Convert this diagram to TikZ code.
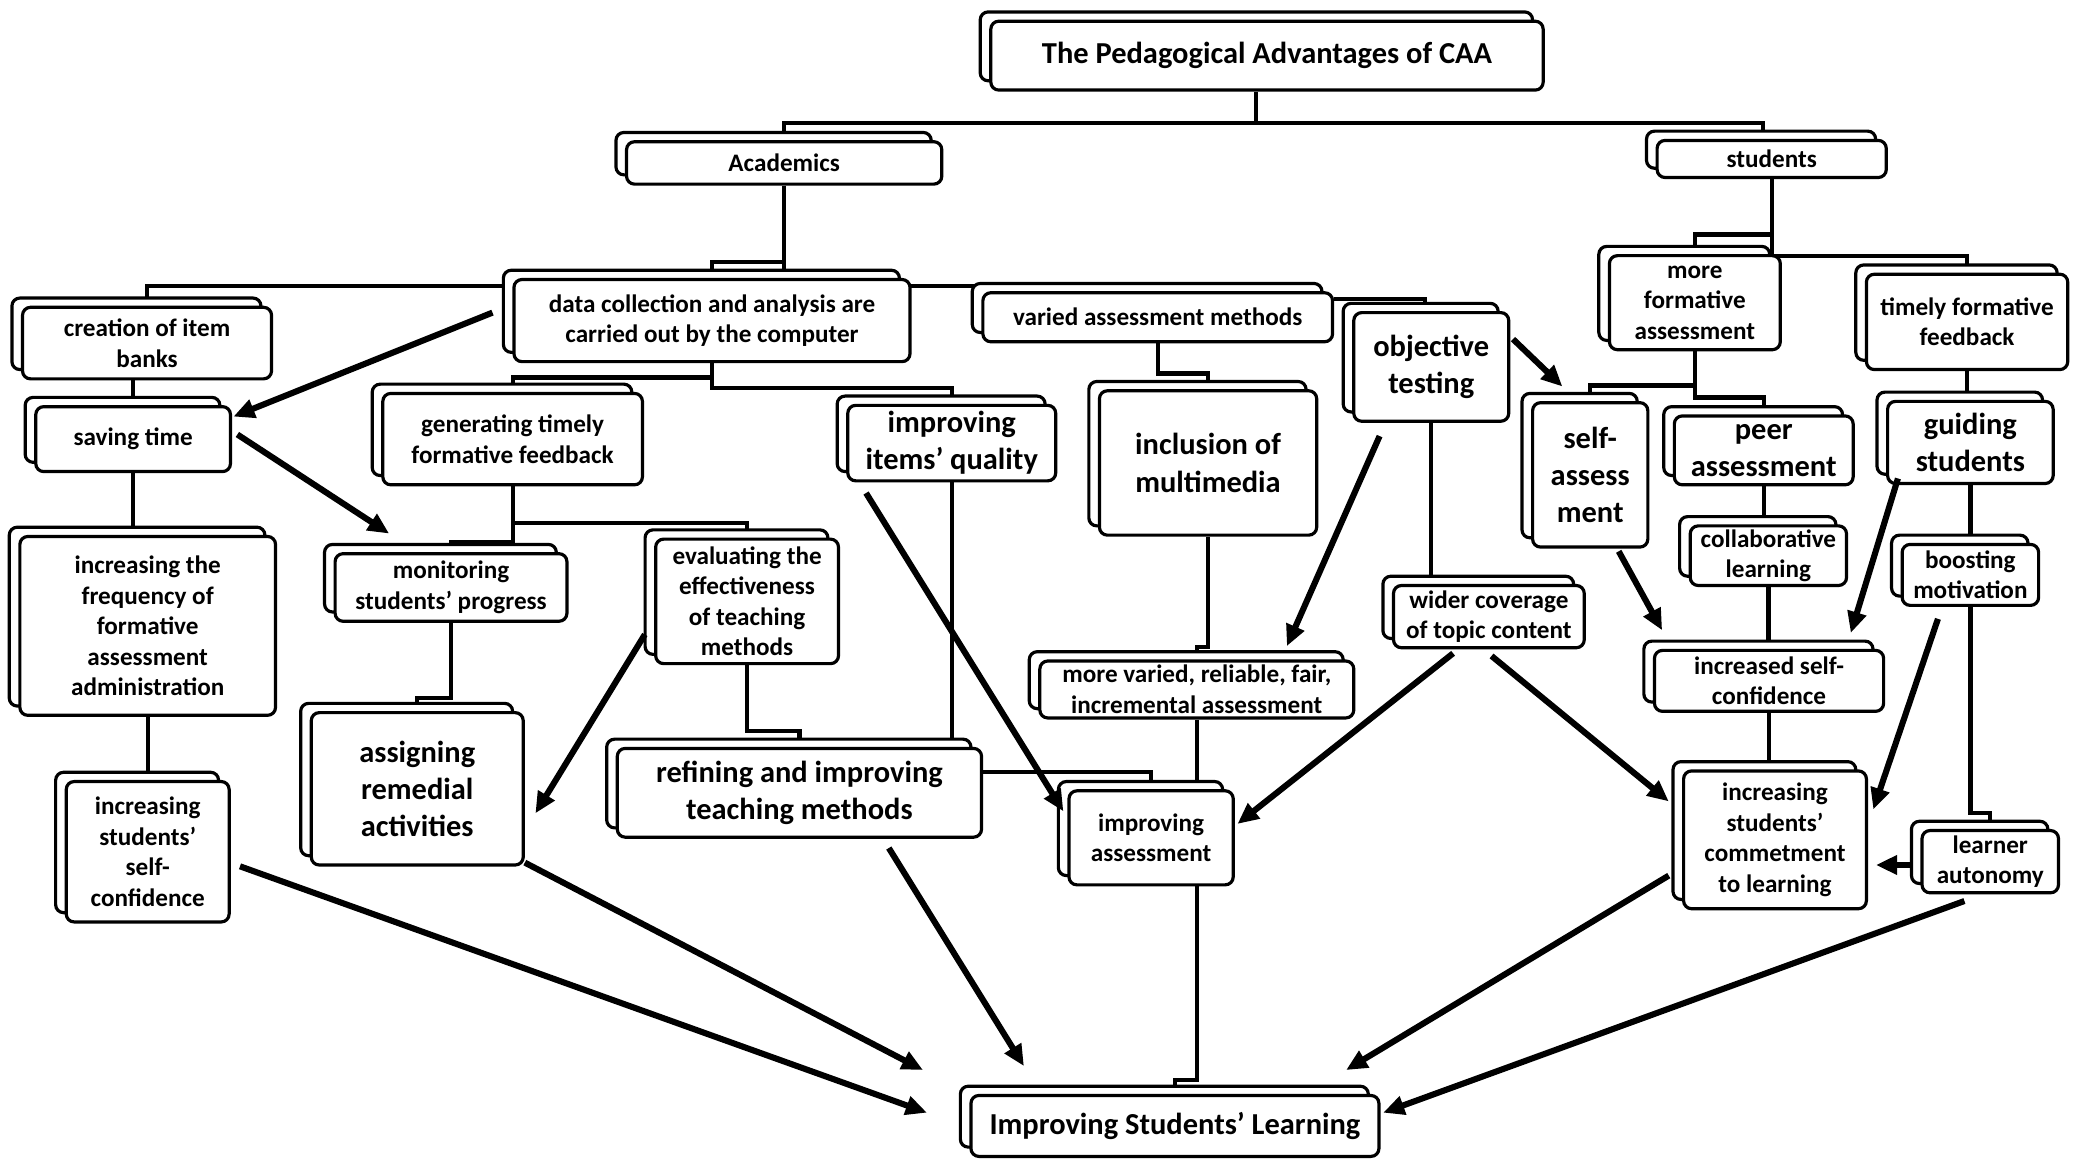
\documentclass[tikz,border=0pt]{standalone}
\usepackage{fontspec}
\setmainfont{Carlito}
\usetikzlibrary{arrows.meta,shadows,calc}
\pgfdeclarelayer{bgzero}
\pgfdeclarelayer{background}
\pgfsetlayers{bgzero,background,main}
\newcommand\normtext{\fontsize{19}{23}\selectfont\bfseries}
\newcommand\bigtext{\fontsize{23}{28}\selectfont\bfseries}
\newcommand\titletext{\fontsize{23}{27}\selectfont\bfseries}
\tikzset{
  box/.style={draw=black, line width=2.4pt, rounded corners=6pt, fill=white, inner sep=2pt,
    align=center, font=\normtext,
    copy shadow={shadow xshift=-8pt, shadow yshift=7pt, draw=black, fill=white, line width=2.4pt}},
  bigbox/.style={box, font=\bigtext},
  tree/.style={line width=3.2pt},
  arr/.style={line width=4.6pt, -{Triangle[length=16pt,width=14pt]}},
}
\begin{document}
\begin{tikzpicture}[x=1pt,y=-1pt]
\begin{pgfonlayer}{bgzero}
\fill[white] (0,0) rectangle (1568,879);
\end{pgfonlayer}
\useasboundingbox (0,0) rectangle (1568,879);

% nodes
\node[box, font=\titletext, minimum width=417pt, minimum height=52pt] (title) at (956.5,42) {The Pedagogical Advantages of CAA};
\node[box, minimum width=238pt, minimum height=32pt] (academics) at (592,123) {Academics};
\node[box, minimum width=173pt, minimum height=28pt] (students) at (1337.5,120) {students};
\node[box, minimum width=299pt, minimum height=62pt] (datacoll) at (537.5,242) {data collection and analysis are\\carried out by the computer};
\node[box, minimum width=188pt, minimum height=54pt] (creation) at (111,259) {creation of item\\banks};
\node[box, minimum width=147pt, minimum height=49pt] (saving) at (100.5,331.5) {saving time};
\node[box, minimum width=196pt, minimum height=69pt] (generating) at (387,331.5) {generating timely\\formative feedback};
\node[bigbox, minimum width=157pt, minimum height=57pt] (itemsq) at (718.5,334.5) {improving\\items' quality};
\node[box, minimum width=193pt, minimum height=135pt] (freq) at (111.5,472.5) {increasing the\\frequency of\\formative\\assessment\\administration};
\node[box, minimum width=175pt, minimum height=51pt] (monitoring) at (340.5,443.5) {monitoring\\students' progress};
\node[box, minimum width=138pt, minimum height=94pt] (evaluating) at (564,454) {evaluating the\\effectiveness\\of teaching\\methods};
\node[bigbox, minimum width=160pt, minimum height=115pt] (assigning) at (315,595.5) {assigning\\remedial\\activities};
\node[box, minimum width=123pt, minimum height=106pt] (selfconfL) at (111.5,643) {increasing\\students'\\self-\\confidence};
\node[bigbox, minimum width=275pt, minimum height=67pt] (refining) at (603.5,598.5) {refining and improving\\teaching methods};
\node[box, minimum width=264pt, minimum height=37pt] (varied) at (874,239.5) {varied assessment methods};
\node[bigbox, minimum width=117pt, minimum height=82pt] (objective) at (1080.5,277) {objective\\testing};
\node[bigbox, minimum width=164pt, minimum height=109pt] (multimedia) at (912,349.5) {inclusion of\\multimedia};
\node[box, minimum width=129pt, minimum height=71pt] (moreform) at (1279.5,228.5) {more\\formative\\assessment};
\node[box, minimum width=152pt, minimum height=72pt] (timely) at (1485,243) {timely formative\\feedback};
\node[bigbox, minimum width=87pt, minimum height=109pt] (selfassess) at (1200.5,358.5) {self-\\assess\\ment};
\node[bigbox, minimum width=135pt, minimum height=52pt] (peer) at (1331.5,340) {peer\\assessment};
\node[bigbox, minimum width=125pt, minimum height=62pt] (guiding) at (1487.5,334) {guiding\\students};
\node[box, minimum width=118pt, minimum height=45pt] (collab) at (1335,419.5) {collaborative\\learning};
\node[box, minimum width=103pt, minimum height=46pt] (boosting) at (1487.5,434) {boosting\\motivation};
\node[box, minimum width=144pt, minimum height=47pt] (wider) at (1124,465.5) {wider coverage\\of topic content};
\node[box, minimum width=237pt, minimum height=43pt] (morevaried) at (903.5,520.5) {more varied, reliable, fair,\\incremental assessment};
\node[box, minimum width=173pt, minimum height=46pt] (incself) at (1335.5,514) {increased self-\\confidence};
\node[box, minimum width=124pt, minimum height=71pt] (impassess) at (869,632.5) {improving\\assessment};
\node[box, minimum width=138pt, minimum height=104pt] (commit) at (1340,634) {increasing\\students'\\commetment\\to learning};
\node[box, minimum width=103pt, minimum height=47pt] (autonomy) at (1502.5,650.5) {learner\\autonomy};
\node[bigbox, minimum width=308pt, minimum height=46pt] (ISL) at (887,850) {Improving Students' Learning};

% tree connectors (behind boxes)
\begin{pgfonlayer}{background}
\coordinate (jT) at (948,93);
\coordinate (jS) at (1331,93);
\draw[tree] (title.south -| jT) -- (jT) -| (academics);
\draw[tree] (jT) -- (jS) -- (jS |- students);
\draw[tree] (academics) -- ++(0,75) -| (datacoll);
\draw[tree] (academics) -- ++(0,93) -| (varied);
\coordinate (jV) at (1076,226);
\draw[tree] (varied.east |- jV) -- (jV) -- (jV |- objective);
\draw[tree] ([yshift=26pt]datacoll.center) -| (creation);
\draw[tree] (datacoll) -- ++(0,43) -| (generating);
\draw[tree] (datacoll) -- ++(0,51) -| (itemsq);
\draw[tree] (saving) -- (saving |- creation);
\draw[tree] (saving) -- (saving |- freq);
\draw[tree] (selfconfL) -- (selfconfL |- freq);
\draw[tree] (generating) -- ++(0,63.5) -| (evaluating);
\draw[tree] (generating) -- ++(0,77.5) -| (monitoring);
\draw[tree] (monitoring) -- ++(0,83.5) -| (assigning);
\draw[tree] (evaluating) -- ++(0,98) -| (refining);
\draw[tree] (itemsq) -- (itemsq |- refining);
\draw[tree] ([yshift=15.5pt]refining.center) -| (impassess);
\draw[tree] (varied) -- ++(0,42.5) -| (multimedia);
\draw[tree] (multimedia) -- ++(0,139) -| (morevaried);
\draw[tree] (objective) -- (objective |- wider);
\draw[tree] (morevaried) -- (morevaried |- impassess);
\draw[tree] (impassess.south -| morevaried) -- ++(0,146) -| (ISL);
\draw[tree] (students) -- ++(0,57) -| (moreform);
\draw[tree] (students) -- ++(0,73) -| (timely);
\draw[tree] (moreform) -- ++(0,62.5) -| (selfassess);
\draw[tree] (moreform) -- ++(0,71.5) -| (peer);
\draw[tree] (timely) -- (timely |- guiding);
\draw[tree] (guiding) -- (guiding |- boosting);
\draw[tree] (peer) -- (peer |- collab);
\draw[tree] (collab) -- (collab |- incself);
\draw[tree] (incself) -- (incself |- commit);
\draw[tree] (boosting) -- ++(0,180) -| (autonomy);
\end{pgfonlayer}

% arrows
\draw[arr] ([shift={(-15,-6)}]datacoll.west) -- ([shift={(1,-17)}]saving.east);
\draw[arr] ([shift={(4,-3.5)}]saving.east) -- ([shift={(42,-14)}]monitoring.north west);
\draw[arr] ([shift={(2,-21)}]objective.east) -- ([shift={(-21,-11)}]selfassess.north);
\draw[arr] ([shift={(-39,10)}]objective.south) -- ([shift={(68,-10)}]morevaried.north);
\draw[arr] ([shift={(15,8)}]itemsq.south west) -- ([shift={(-3,-20)}]impassess.west);
\draw[arr] ([shift={(-7,25)}]evaluating.west) -- ([shift={(8,18.5)}]assigning.east);
\draw[arr] ([shift={(-27,3)}]wider.south) -- ([shift={(2,-10.5)}]impassess.east);
\draw[arr] ([shift={(2,5)}]wider.south) -- ([shift={(-10,-29)}]commit.west);
\draw[arr] ([shift={(21.5,2)}]selfassess.south) -- ([shift={(7,-14)}]incself.north west);
\draw[arr] ([shift={(9,-5)}]guiding.south west) -- ([shift={(-26,-12)}]incself.north east);
\draw[arr] ([shift={(-24.5,9)}]boosting.south) -- ([shift={(4,-23)}]commit.east);
\draw[arr] ([shift={(-8,2.5)}]autonomy.west) -- ([shift={(6,19)}]commit.east);
\draw[arr] ([shift={(-10,27)}]commit.west) -- ([shift={(-26,-18)}]ISL.north east);
\draw[arr] ([shift={(-19.5,5)}]autonomy.south) -- ([shift={(2,-10)}]ISL.east);
\draw[arr] ([shift={(7,11)}]selfconfL.east) -- ([shift={(-32,-10)}]ISL.west);
\draw[arr] ([shift={(0,-3)}]assigning.south east) -- ([shift={(-35,-18)}]ISL.north west);
\draw[arr] ([shift={(67.5,7)}]refining.south) -- ([shift={(-114,-21)}]ISL.north);
\end{tikzpicture}
\end{document}
